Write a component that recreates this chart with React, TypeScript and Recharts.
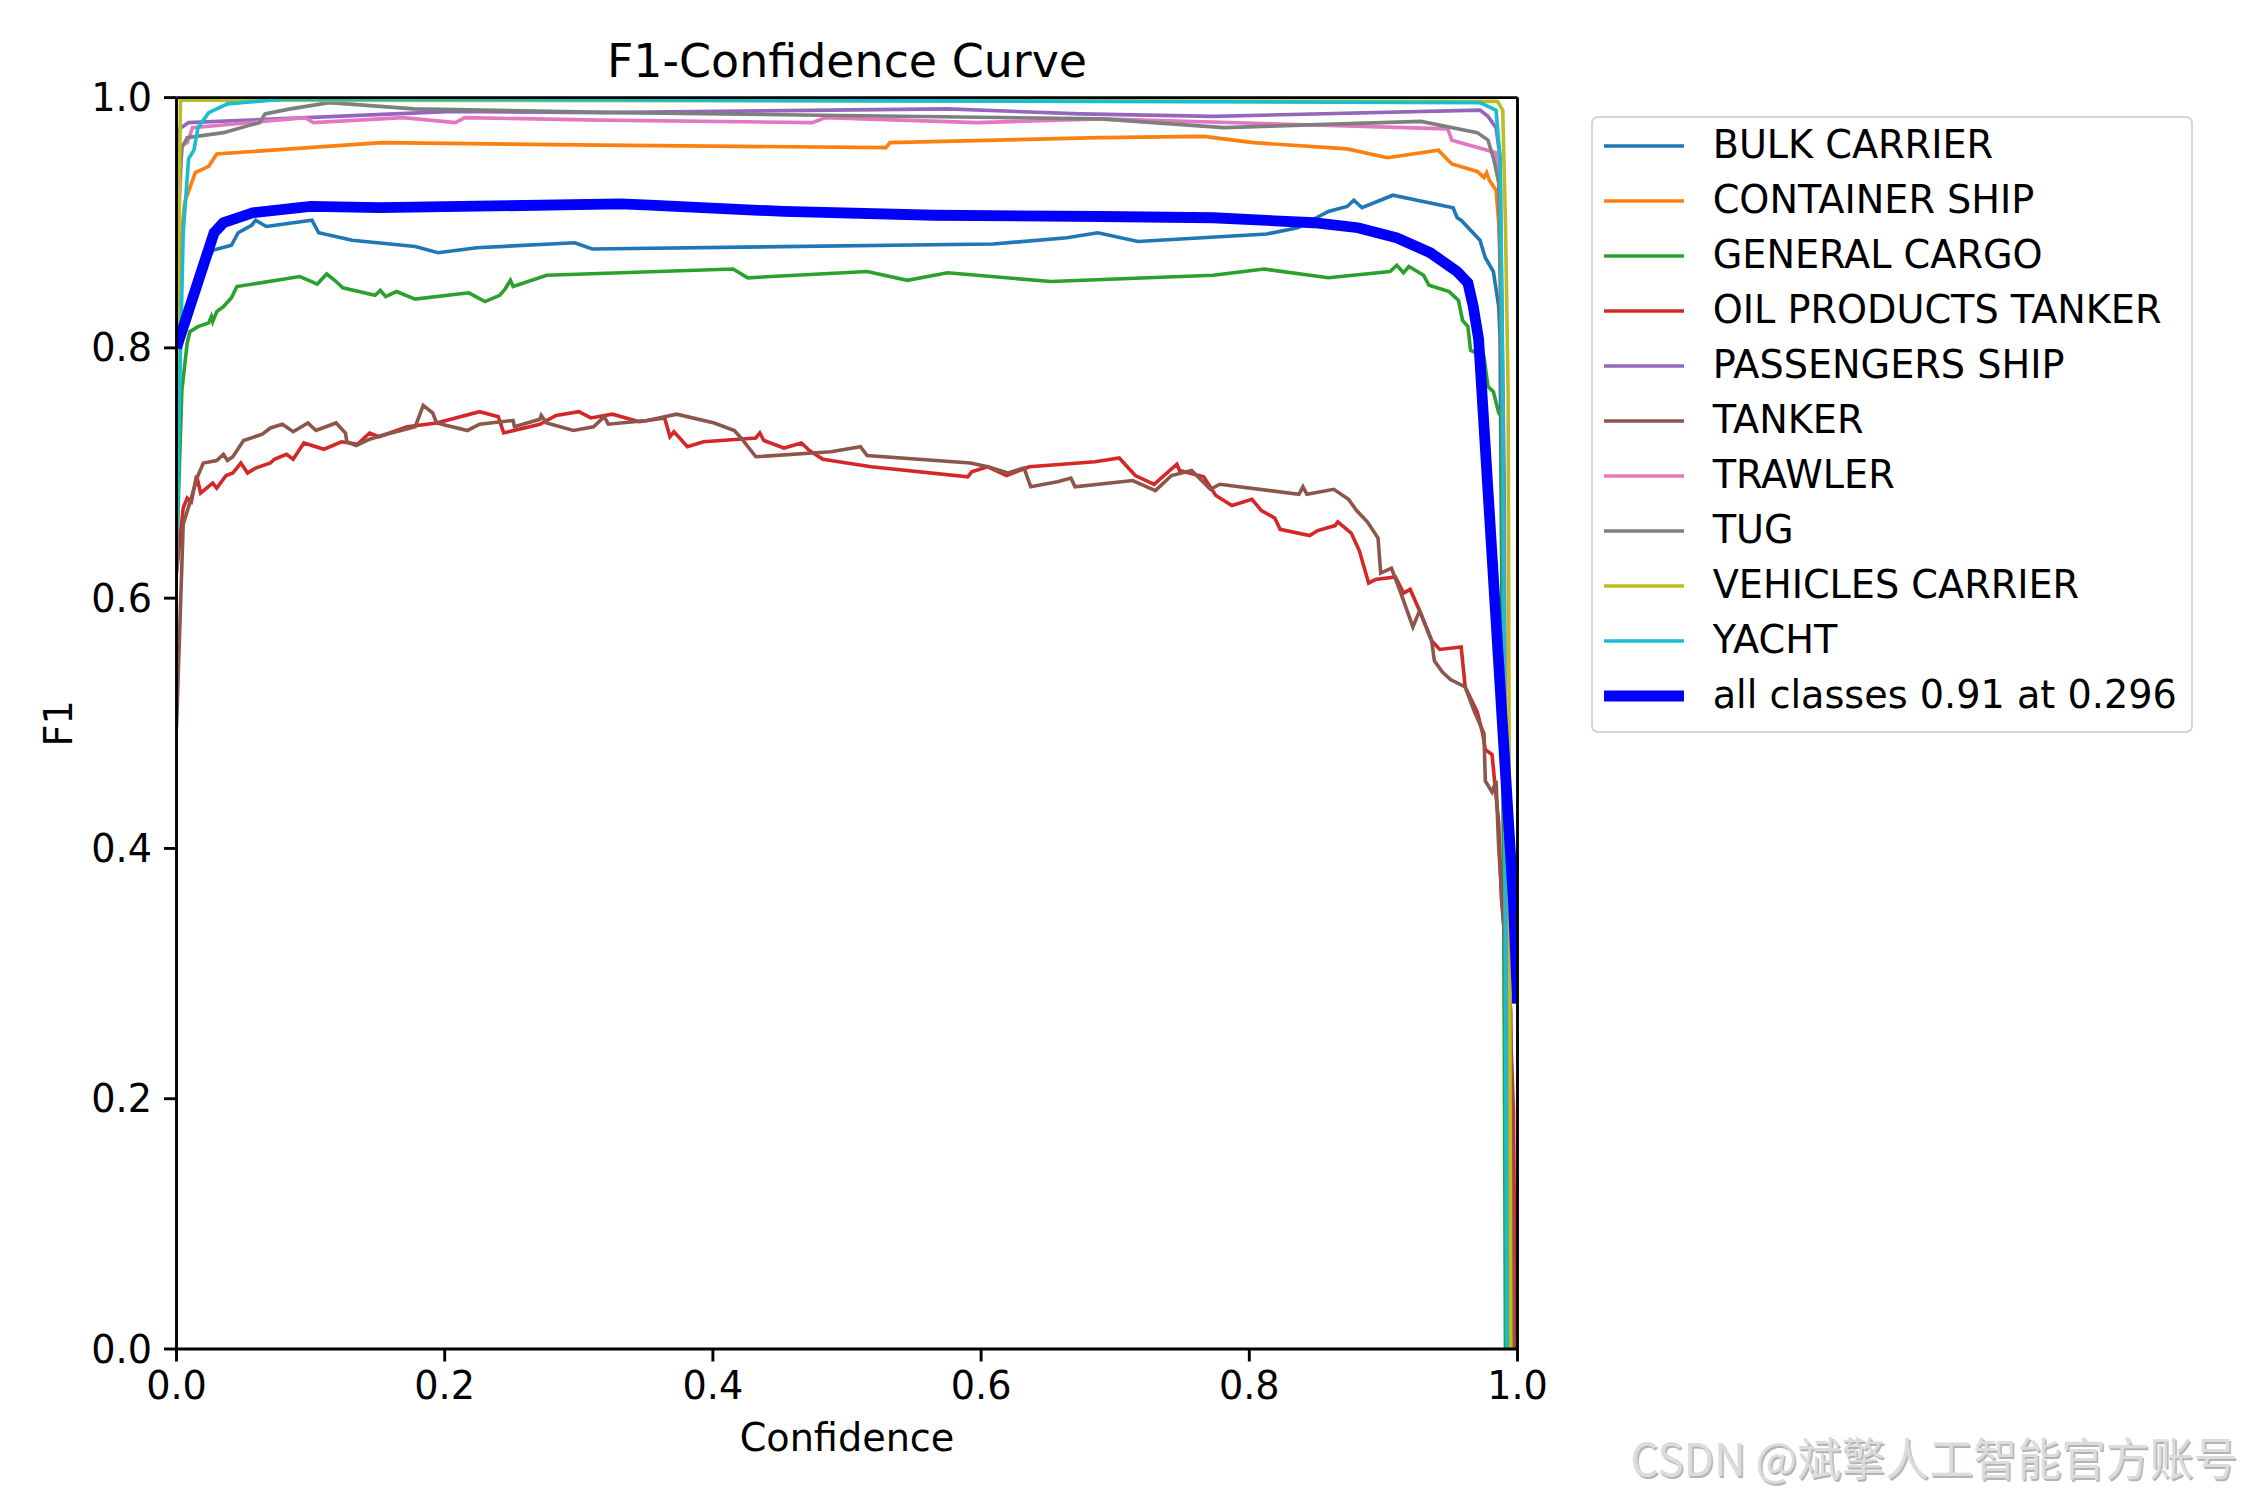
import React from "react";
import { LineChart, Line, XAxis, YAxis, Legend, Label, ReferenceLine } from "recharts";

// F1 vs confidence, one array of [confidence, f1] per class
const BULK_CARRIER: [number, number][] = [
  [0, 0.78], [0.005, 0.82], [0.012, 0.845], [0.02, 0.862], [0.027, 0.878], [0.041, 0.882],
  [0.046, 0.892], [0.056, 0.898], [0.059, 0.902], [0.067, 0.897], [0.101, 0.902], [0.106, 0.892],
  [0.131, 0.886], [0.178, 0.881], [0.195, 0.876], [0.224, 0.88], [0.297, 0.884], [0.31, 0.879],
  [0.609, 0.883], [0.664, 0.888], [0.687, 0.892], [0.717, 0.885], [0.813, 0.891], [0.836, 0.896],
  [0.859, 0.909], [0.873, 0.913], [0.878, 0.918], [0.884, 0.912], [0.907, 0.922], [0.952, 0.912],
  [0.955, 0.904], [0.958, 0.902], [0.972, 0.886], [0.976, 0.872], [0.982, 0.861], [0.986, 0.833],
  [0.987, 0.809], [0.989, 0.5], [0.992, 0],
];

const CONTAINER_SHIP: [number, number][] = [
  [0, 0.8], [0.003, 0.88], [0.006, 0.916], [0.014, 0.94], [0.024, 0.945], [0.03, 0.955],
  [0.153, 0.964], [0.316, 0.962], [0.529, 0.96], [0.532, 0.964], [0.689, 0.968], [0.766, 0.969],
  [0.803, 0.964], [0.873, 0.959], [0.903, 0.952], [0.941, 0.958], [0.951, 0.947], [0.97, 0.941],
  [0.975, 0.936], [0.977, 0.94], [0.979, 0.934], [0.984, 0.926], [0.986, 0.9], [0.988, 0.846],
  [0.99, 0.6], [0.993, 0],
];

const GENERAL_CARGO: [number, number][] = [
  [0, 0.63], [0.002, 0.7], [0.004, 0.766], [0.008, 0.804], [0.01, 0.813], [0.016, 0.817],
  [0.024, 0.82], [0.026, 0.825], [0.027, 0.821], [0.03, 0.829], [0.035, 0.833], [0.041, 0.84],
  [0.045, 0.849], [0.092, 0.857], [0.105, 0.851], [0.112, 0.859], [0.118, 0.854], [0.124, 0.848],
  [0.148, 0.842], [0.152, 0.846], [0.156, 0.841], [0.164, 0.845], [0.178, 0.839], [0.218, 0.844],
  [0.23, 0.837], [0.241, 0.842], [0.245, 0.847], [0.249, 0.854], [0.251, 0.849], [0.276, 0.858],
  [0.415, 0.863], [0.426, 0.856], [0.515, 0.861], [0.545, 0.854], [0.575, 0.86], [0.652, 0.853],
  [0.773, 0.858], [0.811, 0.863], [0.859, 0.856], [0.905, 0.861], [0.91, 0.866], [0.915, 0.86],
  [0.919, 0.865], [0.93, 0.858], [0.934, 0.85], [0.949, 0.845], [0.956, 0.838], [0.959, 0.822],
  [0.963, 0.817], [0.965, 0.798], [0.975, 0.793], [0.978, 0.769], [0.982, 0.765], [0.986, 0.748],
  [0.988, 0.745], [0.99, 0.3], [0.991, 0],
];

const OIL_PRODUCTS_TANKER: [number, number][] = [
  [0, 0.62], [0.005, 0.672], [0.008, 0.68], [0.011, 0.677], [0.015, 0.698], [0.018, 0.684],
  [0.027, 0.692], [0.03, 0.688], [0.037, 0.698], [0.042, 0.7], [0.048, 0.708], [0.053, 0.7],
  [0.059, 0.704], [0.07, 0.708], [0.073, 0.711], [0.082, 0.715], [0.087, 0.711], [0.095, 0.724],
  [0.11, 0.719], [0.123, 0.725], [0.135, 0.723], [0.144, 0.732], [0.151, 0.729], [0.172, 0.737],
  [0.194, 0.74], [0.226, 0.749], [0.24, 0.745], [0.244, 0.732], [0.271, 0.739], [0.283, 0.746],
  [0.3, 0.749], [0.309, 0.744], [0.325, 0.747], [0.345, 0.741], [0.364, 0.744], [0.368, 0.729],
  [0.371, 0.733], [0.381, 0.721], [0.393, 0.725], [0.432, 0.728], [0.435, 0.732], [0.438, 0.726],
  [0.453, 0.72], [0.466, 0.724], [0.472, 0.718], [0.482, 0.711], [0.518, 0.705], [0.59, 0.697],
  [0.593, 0.701], [0.605, 0.705], [0.619, 0.698], [0.636, 0.705], [0.685, 0.709], [0.703, 0.712],
  [0.715, 0.698], [0.729, 0.691], [0.746, 0.707], [0.748, 0.702], [0.766, 0.697], [0.775, 0.682],
  [0.787, 0.674], [0.802, 0.679], [0.809, 0.67], [0.819, 0.664], [0.823, 0.655], [0.845, 0.65],
  [0.851, 0.654], [0.864, 0.658], [0.866, 0.661], [0.876, 0.652], [0.882, 0.638], [0.889, 0.612],
  [0.894, 0.615], [0.909, 0.617], [0.915, 0.604], [0.92, 0.607], [0.927, 0.59], [0.936, 0.566],
  [0.942, 0.559], [0.958, 0.561], [0.961, 0.529], [0.97, 0.509], [0.974, 0.492], [0.976, 0.479],
  [0.981, 0.475], [0.986, 0.42], [0.988, 0.36], [0.993, 0.3], [0.996, 0.22], [0.997, 0.19],
  [0.9985, 0],
];

const TANKER: [number, number][] = [
  [0, 0.497], [0.005, 0.659], [0.011, 0.68], [0.016, 0.698], [0.02, 0.708], [0.03, 0.71],
  [0.035, 0.715], [0.038, 0.71], [0.042, 0.713], [0.05, 0.726], [0.064, 0.731], [0.07, 0.736],
  [0.079, 0.739], [0.087, 0.733], [0.098, 0.74], [0.104, 0.734], [0.119, 0.74], [0.126, 0.732],
  [0.127, 0.725], [0.134, 0.722], [0.144, 0.727], [0.153, 0.73], [0.178, 0.737], [0.184, 0.754],
  [0.191, 0.748], [0.194, 0.74], [0.217, 0.734], [0.226, 0.739], [0.251, 0.742], [0.252, 0.737],
  [0.271, 0.743], [0.272, 0.746], [0.276, 0.74], [0.296, 0.734], [0.311, 0.737], [0.319, 0.745],
  [0.322, 0.739], [0.351, 0.742], [0.373, 0.747], [0.401, 0.74], [0.416, 0.734], [0.421, 0.728],
  [0.432, 0.713], [0.488, 0.717], [0.51, 0.721], [0.515, 0.714], [0.592, 0.708], [0.605, 0.705],
  [0.62, 0.7], [0.632, 0.704], [0.637, 0.689], [0.657, 0.693], [0.667, 0.696], [0.67, 0.689],
  [0.713, 0.694], [0.73, 0.686], [0.742, 0.698], [0.757, 0.702], [0.771, 0.687], [0.778, 0.691],
  [0.837, 0.683], [0.84, 0.689], [0.843, 0.683], [0.863, 0.687], [0.874, 0.679], [0.88, 0.67],
  [0.888, 0.661], [0.896, 0.648], [0.898, 0.62], [0.906, 0.624], [0.913, 0.604], [0.922, 0.577],
  [0.927, 0.59], [0.936, 0.566], [0.938, 0.55], [0.944, 0.541], [0.95, 0.535], [0.961, 0.529],
  [0.968, 0.509], [0.975, 0.492], [0.976, 0.454], [0.981, 0.445], [0.984, 0.454], [0.986, 0.4],
  [0.99, 0.334], [0.995, 0.27], [0.997, 0],
];

const PASSENGERS_SHIP: [number, number][] = [
  [0, 0.93], [0.001, 0.974], [0.009, 0.98], [0.206, 0.989], [0.316, 0.988], [0.575, 0.991],
  [0.674, 0.987], [0.773, 0.985], [0.972, 0.99], [0.978, 0.985], [0.984, 0.976], [0.987, 0.952],
  [0.99, 0.7], [0.993, 0],
];

const TRAWLER: [number, number][] = [
  [0, 0.86], [0.004, 0.962], [0.008, 0.964], [0.012, 0.976], [0.096, 0.984], [0.102, 0.98],
  [0.169, 0.984], [0.208, 0.98], [0.215, 0.984], [0.316, 0.982], [0.474, 0.98], [0.484, 0.984],
  [0.597, 0.98], [0.689, 0.983], [0.948, 0.975], [0.951, 0.966], [0.984, 0.956], [0.987, 0.92],
  [0.99, 0.6], [0.993, 0],
];

const TUG: [number, number][] = [
  [0, 0.9], [0.004, 0.96], [0.008, 0.968], [0.035, 0.972], [0.055, 0.978], [0.062, 0.98],
  [0.066, 0.987], [0.085, 0.991], [0.114, 0.996], [0.177, 0.991], [0.331, 0.988], [0.689, 0.983],
  [0.781, 0.976], [0.928, 0.981], [0.97, 0.972], [0.978, 0.966], [0.982, 0.952], [0.986, 0.932],
  [0.989, 0.7], [0.993, 0],
];

const VEHICLES_CARRIER: [number, number][] = [
  [0, 0.75], [0.002, 0.92], [0.003, 0.998], [0.985, 0.997], [0.989, 0.99], [0.991, 0.9],
  [0.993, 0.766], [0.995, 0],
];

const YACHT: [number, number][] = [
  [0, 0.62], [0.002, 0.75], [0.005, 0.892], [0.009, 0.951], [0.013, 0.958], [0.016, 0.976],
  [0.024, 0.988], [0.038, 0.995], [0.082, 0.999], [0.972, 0.996], [0.984, 0.99], [0.987, 0.952],
  [0.989, 0.766], [0.991, 0.3], [0.992, 0],
];

const ALL_CLASSES: [number, number][] = [
  [0, 0.8], [0.01, 0.833], [0.028, 0.892], [0.035, 0.9], [0.057, 0.908], [0.1, 0.913],
  [0.152, 0.912], [0.331, 0.915], [0.353, 0.914], [0.453, 0.909], [0.565, 0.906], [0.689, 0.905],
  [0.773, 0.904], [0.848, 0.9], [0.881, 0.896], [0.91, 0.888], [0.935, 0.876], [0.955, 0.861],
  [0.963, 0.852], [0.967, 0.833], [0.971, 0.807], [0.997, 0.357], [1.0, 0.276],
];

const CLASS_NAMES = [
  "BULK CARRIER", "CONTAINER SHIP", "GENERAL CARGO", "OIL PRODUCTS TANKER", "PASSENGERS SHIP",
  "TANKER", "TRAWLER", "TUG", "VEHICLES CARRIER", "YACHT",
];
const CLASS_COLORS = [
  "#1f77b4", "#ff7f0e", "#2ca02c", "#d62728", "#9467bd",
  "#8c564b", "#e377c2", "#7f7f7f", "#bcbd22", "#17becf",
];
const CLASS_POINTS = [
  BULK_CARRIER, CONTAINER_SHIP, GENERAL_CARGO, OIL_PRODUCTS_TANKER, PASSENGERS_SHIP,
  TANKER, TRAWLER, TUG, VEHICLES_CARRIER, YACHT,
];
const ALL_LABEL = "all classes 0.91 at 0.296";
const ALL_COLOR = "#0000ff";
const TICKS = [0, 0.2, 0.4, 0.6, 0.8, 1.0];
const TITLE = "F1-Confidence Curve";
const WATERMARK = "CSDN @斌擎人工智能官方账号";

const FONT = "'DejaVu Sans', sans-serif";
const W = 2250;
const H = 1500;
const PLOT = { left: 176.5, right: 1517.5, top: 97.6, bottom: 1349 };
const Y_AXIS_W = 100;
const X_AXIS_H = 100;
const SPINE = 2.9;
const THIN = 3.6;
const THICK = 10.8;
const FS = 38.2;

const toRows = (pts: [number, number][]) => pts.map(([x, y]) => ({ x, y }));

const tickStyle = { fontSize: FS, fontFamily: FONT, fill: "#000" };

function LegendBox() {
  const rows = [
    ...CLASS_NAMES.map((n, i) => ({ name: n, color: CLASS_COLORS[i], w: THIN })),
    { name: ALL_LABEL, color: ALL_COLOR, w: THICK },
  ];
  return (
    <div
      style={{
        boxSizing: "border-box",
        width: 602,
        height: 617,
        border: `${SPINE}px solid #d6d6d6`,
        borderRadius: 7,
        background: "#fff",
        paddingLeft: 10.7,
        fontFamily: FONT,
        fontSize: FS,
        color: "#000",
      }}
    >
      {rows.map((r) => (
        <div key={r.name} style={{ display: "flex", alignItems: "center", height: 55, whiteSpace: "nowrap" }}>
          <svg width={80} height={14} style={{ marginRight: 29, flex: "none" }}>
            <line x1={0} x2={80} y1={7} y2={7} stroke={r.color} strokeWidth={r.w} />
          </svg>
          <span style={{ lineHeight: 1 }}>{r.name}</span>
        </div>
      ))}
    </div>
  );
}

export default function App() {
  return (
    <div style={{ position: "absolute", left: 0, top: 0, width: W, height: H, background: "#fff" }}>
      <LineChart
        width={W}
        height={H}
        margin={{
          top: PLOT.top,
          right: W - PLOT.right,
          bottom: H - PLOT.bottom - X_AXIS_H,
          left: PLOT.left - Y_AXIS_W,
        }}
      >
        <XAxis
          type="number"
          dataKey="x"
          domain={[0, 1]}
          ticks={TICKS}
          allowDataOverflow
          height={X_AXIS_H}
          tickFormatter={(v: number) => v.toFixed(1)}
          tick={tickStyle}
          tickSize={12.5}
          tickMargin={10}
          tickLine={{ stroke: "#000", strokeWidth: SPINE }}
          axisLine={{ stroke: "#000", strokeWidth: SPINE }}
        >
          <Label
            content={({ viewBox }: any) => (
              <g>
                <text
                  x={viewBox.x + viewBox.width / 2}
                  y={viewBox.y + 102}
                  textAnchor="middle"
                  fontSize={FS}
                  fontFamily={FONT}
                  fill="#000"
                >
                  Confidence
                </text>
                <text
                  x={viewBox.x + viewBox.width / 2}
                  y={77}
                  textAnchor="middle"
                  fontSize={45.9}
                  fontFamily={FONT}
                  fill="#000"
                >
                  {TITLE}
                </text>
              </g>
            )}
          />
        </XAxis>
        <YAxis
          type="number"
          domain={[0, 1]}
          ticks={TICKS}
          allowDataOverflow
          width={Y_AXIS_W}
          tickFormatter={(v: number) => v.toFixed(1)}
          tick={tickStyle}
          tickSize={12.5}
          tickMargin={12}
          tickLine={{ stroke: "#000", strokeWidth: SPINE }}
          axisLine={{ stroke: "#000", strokeWidth: SPINE }}
        >
          <Label
            content={({ viewBox }: any) => {
              const cy = viewBox.y + viewBox.height / 2;
              return (
                <g>
                  <text
                    x={72}
                    y={cy}
                    transform={`rotate(-90, 72, ${cy})`}
                    textAnchor="middle"
                    fontSize={FS}
                    fontFamily={FONT}
                    fill="#000"
                  >
                    F1
                  </text>
                  <g fontFamily="'Noto Sans CJK SC', sans-serif" fontSize={45}>
                    <text x={1632} y={1477.5} textLength={607} lengthAdjust="spacingAndGlyphs" fill="#b4b4b4">
                      {WATERMARK}
                    </text>
                    <text x={1630.5} y={1476} textLength={607} lengthAdjust="spacingAndGlyphs" fill="#dcdcdc">
                      {WATERMARK}
                    </text>
                  </g>
                </g>
              );
            }}
          />
        </YAxis>
        {CLASS_POINTS.map((pts, i) => (
          <Line
            key={CLASS_NAMES[i]}
            name={CLASS_NAMES[i]}
            data={toRows(pts)}
            dataKey="y"
            type="linear"
            stroke={CLASS_COLORS[i]}
            strokeWidth={THIN}
            dot={false}
            activeDot={false}
            isAnimationActive={false}
          />
        ))}
        <Line
          name={ALL_LABEL}
          data={toRows(ALL_CLASSES)}
          dataKey="y"
          type="linear"
          stroke={ALL_COLOR}
          strokeWidth={THICK}
          dot={false}
          activeDot={false}
          isAnimationActive={false}
        />
        {/* top and right spines */}
        <ReferenceLine y={1} stroke="#000" strokeWidth={SPINE} ifOverflow="visible" />
        <ReferenceLine x={1} stroke="#000" strokeWidth={SPINE} ifOverflow="visible" />
        <Legend
          layout="vertical"
          align="center"
          verticalAlign="middle"
          content={() => <LegendBox />}
          wrapperStyle={{ position: "absolute", left: 1591, top: 116, width: 602, height: 617, bottom: "auto", right: "auto" }}
        />
      </LineChart>
    </div>
  );
}
